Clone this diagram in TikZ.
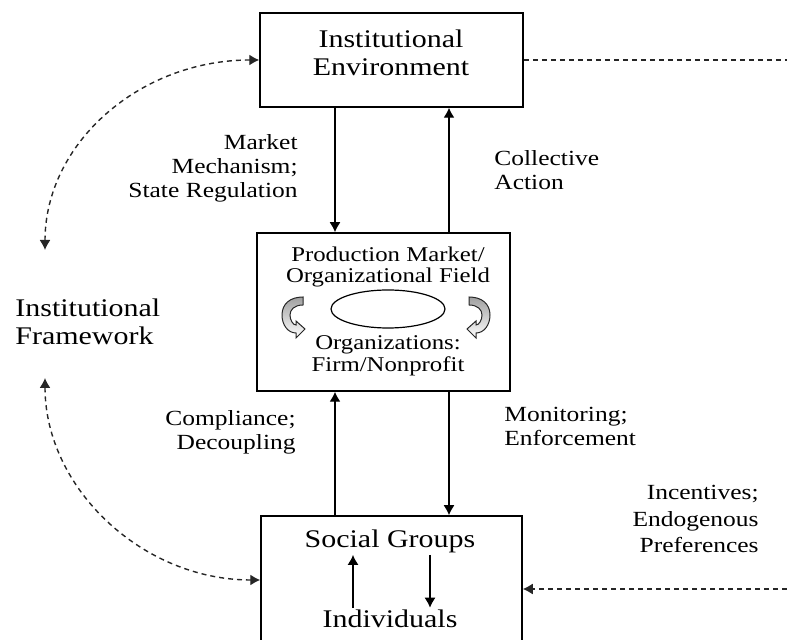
\documentclass[tikz,border=0pt]{standalone}
\usepackage{fontspec}
\setmainfont{Liberation Serif}[FakeStretch=1.18]
\usetikzlibrary{arrows.meta,shapes.geometric}

% curved turn arrow inside the field box
\tikzset{
  turn/.pic={
    \path[draw=black!85, line width=0.5pt, top color=gray!75, bottom color=white]
      (8,-19) -- (8,-11) .. controls (-1,-11) and (-5,-6) .. (-5,-1)
      .. controls (-5,4) and (-2,9) .. (1,9) -- (1,5) -- (10,13) -- (1,22) -- (1,17)
      .. controls (-7,17) and (-13,9) .. (-13,-1)
      .. controls (-13,-12) and (-5,-19) .. (8,-19) -- cycle;
  }
}

\begin{document}
\begin{tikzpicture}[x=0.5pt, y=-0.5pt, >={Latex[length=5pt,width=5.5pt]}]
  % Styles
  \tikzstyle{box} = [draw, line width=0.75pt, inner sep=0pt]
  \tikzstyle{big} = [font=\fontsize{12.7}{14.3}\selectfont, align=center, inner sep=1pt]
  \tikzstyle{mid} = [font=\fontsize{10.5}{10.8}\selectfont, align=center, inner sep=1pt]
  \tikzstyle{lbl} = [font=\fontsize{10.8}{12}\selectfont, inner sep=1pt]
  \tikzstyle{link} = [->, line width=0.7pt]
  \tikzstyle{feed} = [line width=0.7pt, black!85, dash pattern=on 2.5pt off 2pt]

  \clip (0,0) rectangle (787,640);

  % Boxes
  \node[box, minimum width=131.5pt, minimum height=47pt] (env) at (391.5,60) {};
  \node[box, minimum width=126.5pt, minimum height=79pt] (org) at (383.5,312) {};
  \node[box, minimum width=130.5pt, minimum height=64pt] (soc) at (391.5,580) {};

  % Texts in the boxes
  \node[big] (envtxt) at (391,53) {Institutional\\Environment};
  \node[mid] (field) at (388,267) {Production Market/\\Organizational Field};
  \node[draw, ellipse, line width=0.6pt, minimum width=57pt, minimum height=19pt] (core) at (388,309) {};
  \node[mid] (firms) at (388,356) {Organizations:\\Firm/Nonprofit};
  \pic at (295,316) {turn};
  \pic[xscale=-1] at (477,316) {turn};
  \node[big] (grp) at (390,541) {Social Groups};
  \node[big] (ind) at (390,619) {Individuals};

  % Labels
  \node[lbl, align=right, anchor=east] (mech) at (300,168) {Market\\Mechanism;\\State Regulation};
  \node[lbl, align=left, anchor=west] (coll) at (492,170) {Collective\\Action};
  \node[lbl, align=right, anchor=east] (comp) at (298,432) {Compliance;\\Decoupling};
  \node[lbl, align=left, anchor=west] (mon) at (502,426) {Monitoring;\\Enforcement};
  \node[lbl, align=right, anchor=east, font=\fontsize{10.8}{13.3}\selectfont] (inc) at (761,519) {Incentives;\\Endogenous\\Preferences};
  \node[big, align=left, anchor=west] (frame) at (13,322) {Institutional\\Framework};

  % Vertical links
  \coordinate (dn) at (335,0);
  \coordinate (up) at (449,0);
  \draw[link] (env.south -| dn) -- (org.north -| dn);
  \draw[link] (org.north -| up) -- (env.south -| up);
  \draw[link] (soc.north -| dn) -- (org.south -| dn);
  \draw[link] (org.south -| up) -- (soc.north -| up);
  \draw[link, line width=0.6pt] ([xshift=-18.5pt]ind.north) -- ([xshift=-18.5pt]grp.south);
  \draw[link, line width=0.6pt] ([xshift=20pt]grp.south) -- ([xshift=20pt]ind.north);

  % Dashed feedbacks
  \coordinate (fwtop) at (45,250);
  \coordinate (fwbot) at (45,378);
  \coordinate (rimtop) at (787,60);
  \coordinate (rimbot) at (787,589);
  \draw[feed, <->] (fwtop) .. controls (45,143) and (140,60) .. (env.west);
  \draw[feed, <->] (fwbot) .. controls (45,488) and (142,580) .. (soc.west);
  \draw[feed] (env.east) -- (rimtop);
  \draw[feed, ->] (rimbot) -- (rimbot -| soc.east);
\end{tikzpicture}
\end{document}
